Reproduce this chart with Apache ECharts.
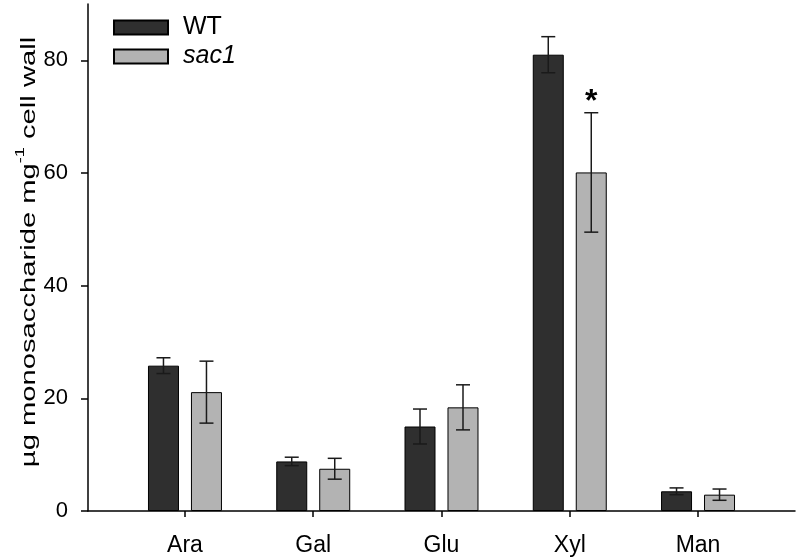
<!DOCTYPE html>
<html>
<head>
<meta charset="utf-8">
<script src="https://cdn.jsdelivr.net/npm/echarts@6/dist/echarts.min.js"></script>
<style>html,body{margin:0;padding:0;background:#fff;}#c{width:798px;height:560px;}</style>
</head>
<body>
<div id="c"></div>
<script>
const categories = ['Ara', 'Gal', 'Glu', 'Xyl', 'Man'];
const wtMean = [25.8, 8.8, 15.0, 81.0, 3.5];
const wtErr = [1.4, 0.75, 3.1, 3.2, 0.6];
const sacMean = [21.1, 7.5, 18.4, 60.1, 2.9];
const sacErr = [5.5, 1.85, 4.0, 10.6, 1.0];
const significance = ['', '', '', '*', ''];
const yTicks = [0, 20, 40, 60, 80];
const yTitle = '{a|µg monosaccharide mg}{s|-1}{a| cell wall}';

const BAR_W = 31, BAR_GAP = 12;
const OFF = (BAR_W + BAR_GAP) / 2;
const FONT = '"Liberation Sans", Arial, sans-serif';

function errSeries(name, means, errs, sign, marks) {
  return {
    type: 'custom',
    name: name + '_err',
    z: 5,
    silent: true,
    data: means.map((m, i) => [i, m, errs[i]]),
    renderItem: function (params, api) {
      const i = api.value(0), m = api.value(1), e = api.value(2);
      const mark = marks ? marks[params.dataIndex] : '';
      const top = api.coord([i, m + e]);
      const bot = api.coord([i, m - e]);
      const x = top[0] + sign * OFF;
      const cap = 7;
      const st = { stroke: '#1a1a1a', lineWidth: 1.5 };
      const children = [
        { type: 'line', shape: { x1: x, y1: top[1], x2: x, y2: bot[1] }, style: st },
        { type: 'line', shape: { x1: x - cap, y1: top[1], x2: x + cap, y2: top[1] }, style: st },
        { type: 'line', shape: { x1: x - cap, y1: bot[1], x2: x + cap, y2: bot[1] }, style: st }
      ];
      if (mark) {
        children.push({ type: 'text', style: { text: mark, x: x, y: top[1] - 11, align: 'center', verticalAlign: 'middle', font: 'bold 32px ' + FONT, fill: '#000' } });
      }
      return { type: 'group', children: children };
    }
  };
}

const chart = echarts.init(document.getElementById('c'), null, { renderer: 'canvas' });
chart.setOption({
  animation: false,
  backgroundColor: '#fff',
  grid: { left: 88, right: 3, top: 4, bottom: 49, containLabel: false },
  legend: {
    orient: 'vertical',
    left: 108,
    top: 10,
    itemWidth: 54,
    itemHeight: 14,
    itemGap: 4,
    icon: 'rect',
    data: ['WT', 'sac1'],
    formatter: function (n) { return n === 'sac1' ? '{i|sac1}' : '{n|' + n + '}'; },
    textStyle: {
      fontFamily: FONT, fontSize: 25, color: '#000', padding: [0, 0, 0, 10],
      rich: {
        i: { fontStyle: 'italic', fontSize: 25, lineHeight: 25, fontFamily: FONT, color: '#000' },
        n: { fontSize: 25, lineHeight: 25, fontFamily: FONT, color: '#000' }
      }
    }
  },
  graphic: [{
    type: 'text',
    x: 27,
    y: 252,
    rotation: Math.PI / 2,
    scaleX: 1.39,
    silent: true,
    style: {
      text: yTitle,
      align: 'center',
      verticalAlign: 'middle',
      fill: '#000',
      font: '21px ' + FONT,
      rich: {
        a: { fontFamily: FONT, fontSize: 21, fill: '#000', lineHeight: 26, verticalAlign: 'bottom' },
        s: { fontFamily: FONT, fontSize: 13, fill: '#000', lineHeight: 26, verticalAlign: 'top' }
      }
    }
  }],
  xAxis: {
    type: 'value',
    min: -0.756,
    max: 4.756,
    splitLine: { show: false },
    axisLine: { show: true, onZero: false, lineStyle: { color: '#000', width: 1.5 } },
    axisTick: { show: true, customValues: [0, 1, 2, 3, 4], length: 6, inside: false, lineStyle: { color: '#000', width: 1.5 } },
    axisLabel: {
      customValues: [0, 1, 2, 3, 4],
      formatter: function (v) { return categories[Math.round(v)]; },
      fontFamily: FONT, fontSize: 23, color: '#000', margin: 23
    }
  },
  yAxis: {
    type: 'value',
    min: 0,
    max: 90,
    splitLine: { show: false },
    axisLine: { show: true, onZero: false, lineStyle: { color: '#000', width: 1.5 } },
    axisTick: { show: true, customValues: yTicks, length: 7, lineStyle: { color: '#000', width: 1.5 } },
    axisLabel: { customValues: yTicks, fontFamily: FONT, fontSize: 22, color: '#000', margin: 20 }
  },
  series: [
    {
      type: 'bar', name: 'WT', barWidth: BAR_W, barGap: (BAR_GAP / BAR_W * 100).toFixed(1) + '%',
      itemStyle: { color: '#2f2f2f', borderColor: '#000', borderWidth: 1 },
      data: wtMean.map((v, i) => [i, v])
    },
    {
      type: 'bar', name: 'sac1', barWidth: BAR_W,
      itemStyle: { color: '#b3b3b3', borderColor: '#000', borderWidth: 1 },
      data: sacMean.map((v, i) => [i, v])
    },
    errSeries('WT', wtMean, wtErr, -1, null),
    errSeries('sac1', sacMean, sacErr, 1, significance)
  ]
});
</script>
</body>
</html>
